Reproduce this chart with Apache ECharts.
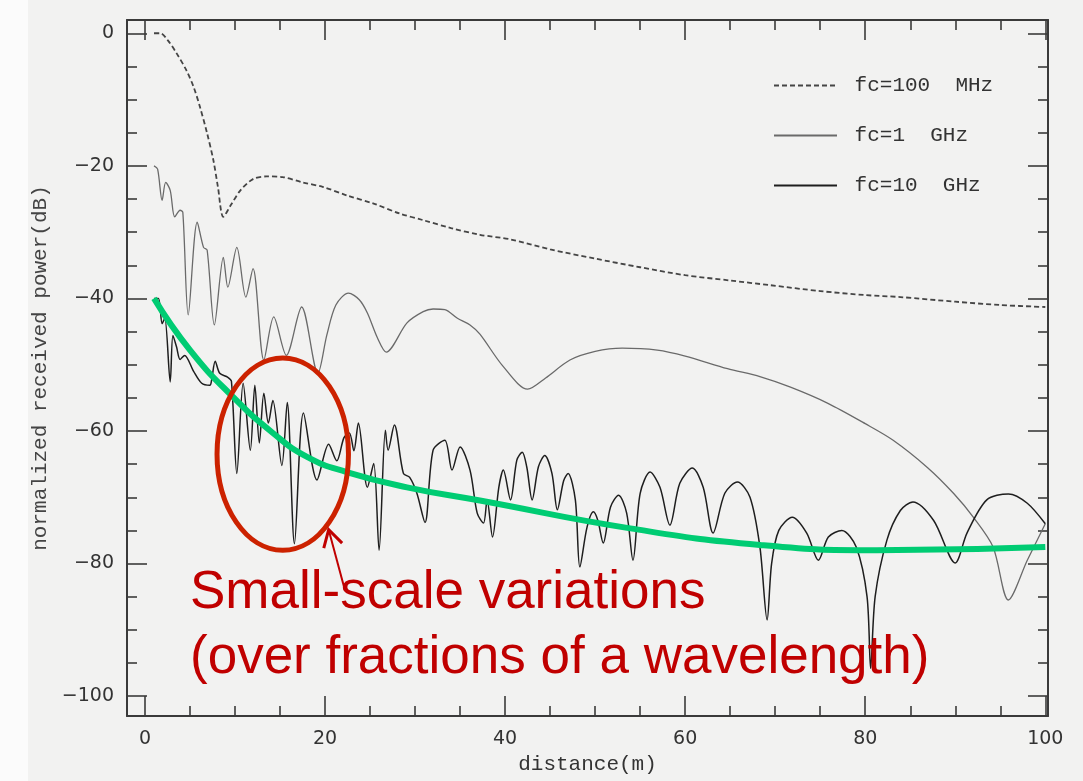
<!DOCTYPE html>
<html>
<head>
<meta charset="utf-8">
<script src="https://cdn.jsdelivr.net/npm/echarts@6/dist/echarts.min.js"></script>
<style>
html, body { margin: 0; padding: 0; background: #f2f2f1; }
#chart { width: 1083px; height: 781px; }
</style>
</head>
<body>
<div id="chart"></div>
<script>
// tick positions
var xMajorTicks = [0, 20, 40, 60, 80, 100];
var xMinorTicks = [5, 10, 15, 25, 30, 35, 45, 50, 55, 65, 70, 75, 85, 90, 95];
var yMajorTicks = [0, -20, -40, -60, -80, -100];
var yMinorTicks = [-5, -10, -15, -25, -30, -35, -45, -50, -55, -65, -70, -75, -85, -90, -95];

var seriesNames = ['fc=100  MHz', 'fc=1  GHz', 'fc=10  GHz'];

// [distance m, dB]
var fc100MHz = [[1,0],[1.7,0],[2.5,-1],[3.5,-3],[4.6,-5.6],[5.4,-8.1],[6.1,-11.1],[6.9,-15.1],[7.6,-19.2],[8.1,-23.2],[8.7,-27.7],
  [9.5,-26],[10.6,-23.7],[12,-22],[13.5,-21.6],[15.3,-21.7],[17.5,-22.5],[19.8,-23.2],[22.5,-24.5],[25.4,-25.7],[28.3,-27.2],
  [30.9,-28.2],[34,-29.4],[37.2,-30.4],[40.6,-31.1],[45,-32.6],[50,-34],[55,-35.3],[60,-36.5],[65,-37.3],[69.4,-38],[75,-38.9],
  [80,-39.5],[83.9,-39.8],[90,-40.5],[95,-41],[100,-41.3]];

var fc1GHz = [[1,-20],[1.4,-20.5],[1.9,-25.2],[2.3,-22.5],[2.8,-23.7],[3.3,-27.7],[3.9,-26.7],[4.2,-27],[4.8,-42.5],[5.8,-28.5],
  [6.5,-32.3],[6.9,-32.7],[7.7,-44],[8.7,-33.8],[9.2,-38.3],[10.2,-32.3],[11.2,-39.8],[12,-35.5],[13.2,-49.3],[14.3,-42.8],
  [15.7,-48.6],[17.4,-41.3],[19.2,-51.3],[20.2,-45.5],[21.2,-41],[22.6,-39.2],[23.8,-40.2],[24.7,-42.2],[25.8,-45.9],[26.8,-48.1],
  [29.1,-43.7],[30.9,-42],[32,-41.6],[33.3,-41.7],[34.7,-43],[36.1,-44],[37.2,-45.4],[39.8,-50.3],[42.5,-53.7],[44.5,-52],
  [47.2,-49.3],[50,-48],[53,-47.5],[56.9,-47.8],[60,-48.7],[64.7,-50.6],[68.3,-51.8],[71.7,-53.4],[75.8,-55.8],[80,-58.9],
  [83.1,-61.4],[86.9,-65.5],[89.8,-69.4],[92,-73],[94.2,-77.5],[95.9,-85.5],[98,-79.5],[100,-74]];

var fc10GHz = [[1,-40],[1.5,-40],[1.9,-43.8],[2.2,-43],[2.8,-52.6],[3.1,-45.6],[3.5,-47.3],[3.9,-49.2],[4.4,-48.6],[5.4,-51],
  [6.3,-52.8],[7.2,-53.1],[7.4,-52.3],[7.8,-49.5],[8.3,-51.3],[9.2,-51.9],[9.6,-52.5],[10.2,-66.4],[10.9,-52.8],[11.7,-62.9],
  [12.2,-53.1],[12.7,-61.8],[13.2,-54.3],[13.7,-58.8],[14.2,-55.4],[15.2,-65.2],[15.8,-55.7],[16.6,-77],[17.6,-57.3],[19.1,-67.4],
  [20.4,-62],[21.3,-64.5],[22.1,-61],[22.7,-60.3],[23.2,-63],[23.7,-58.8],[24.7,-68.5],[25.4,-64.9],[26,-78],[26.7,-59.9],
  [27,-62.9],[27.7,-59.1],[28.7,-66.4],[29.4,-67],[30.2,-69.4],[31.1,-73.8],[32,-62.9],[33.3,-61.4],[34.1,-65.9],[35,-62.4],
  [36.1,-65.9],[36.9,-72.4],[37.6,-73.9],[38,-70.4],[38.6,-76],[39.3,-68.5],[39.8,-65.9],[40.6,-70.4],[41.3,-64.4],[41.9,-63.2],
  [42.4,-65.4],[43,-70.4],[43.7,-65.4],[44.4,-63.7],[45.2,-66.4],[45.8,-71.9],[46.5,-67.5],[47,-66.4],[47.8,-70.4],[48.3,-80.5],
  [49.1,-74.5],[49.8,-72.2],[50.3,-73.5],[50.9,-76.9],[51.7,-71.5],[52.6,-69.7],[53.5,-72.4],[54.2,-79.5],[55,-69.4],[56.1,-66.2],
  [57.2,-68.5],[58.3,-74.2],[59.4,-67.9],[60.8,-65.6],[62,-68.5],[63.1,-75.4],[64.4,-69.4],[65.8,-67.7],[67.2,-70],[68.3,-77.5],
  [69.1,-88.5],[69.6,-80],[70.4,-75],[71.9,-73],[73.5,-75.4],[74.8,-79.5],[75.9,-76],[77.4,-75],[79,-77.5],[80.2,-85],
  [80.6,-95.8],[81.1,-85],[82.4,-76.5],[83.9,-72],[85.3,-70.7],[87.6,-73.5],[90,-79.9],[91.3,-75.4],[93.5,-70.4],[95.9,-69.5],
  [98,-70.9],[100,-74]];

// hand-drawn trend overlay
var trendLine = [[1,-40],[5,-47.8],[9.8,-54.9],[14.2,-60.3],[18,-63.9],[22.4,-66.2],[29.1,-68.5],[37.2,-70.5],
  [53.9,-74.7],[68.3,-77.2],[81.3,-78],[100,-77.5]];

var noteLines = ['Small-scale variations', '(over fractions of a wavelength)'];

// annotation placement, in data units
var ringCenter = [15.3, -63.5], ringRadius = [7.3, 14.5];
var arrowTail = [22.2, -84], arrowTip = [20.4, -74.9];
var noteAnchor = [5, -79.6];

var ink = '#3a3a3a';
var monoFont = 'Liberation Mono';

function tickLabel(v) {
    return String(v).replace('-', '\u2212');
}

function frameX(pos, ticks, len, grid, withLabels) {
    return {
        type: 'value', gridIndex: grid, position: pos, min: -2, max: 100.3,
        axisLine: { show: grid === 0, onZero: false, lineStyle: { color: ink, width: 2 } },
        axisTick: { inside: true, length: len, customValues: ticks, lineStyle: { color: ink, width: 1.6 } },
        axisLabel: withLabels ? { customValues: ticks, formatter: tickLabel, margin: 14,
            fontFamily: 'DejaVu Sans', fontSize: 19, color: '#333' } : { show: false },
        splitLine: { show: false }
    };
}

function frameY(pos, ticks, len, grid, withLabels) {
    return {
        type: 'value', gridIndex: grid, position: pos, min: -103, max: 2,
        axisLine: { show: grid === 0, onZero: false, lineStyle: { color: ink, width: 2 } },
        axisTick: { inside: true, length: len, customValues: ticks, lineStyle: { color: ink, width: 1.6 } },
        axisLabel: withLabels ? { customValues: ticks, formatter: tickLabel, margin: 13,
            fontFamily: 'DejaVu Sans', fontSize: 19, color: '#333' } : { show: false },
        splitLine: { show: false }
    };
}

var xBottom = frameX('bottom', xMajorTicks, 20, 0, true);
xBottom.name = 'distance(m)';
xBottom.nameLocation = 'middle';
xBottom.nameGap = 38;
xBottom.nameTextStyle = { fontFamily: monoFont, fontSize: 21, color: '#333' };

var yLeft = frameY('left', yMajorTicks, 20, 0, true);
yLeft.name = 'normalized received power(dB)';
yLeft.nameLocation = 'middle';
yLeft.nameGap = 69;
yLeft.nameTextStyle = { fontFamily: monoFont, fontSize: 21, color: '#444' };

var gridBox = { left: 127, right: 35, top: 20, bottom: 65, containLabel: false };

var option = {
    backgroundColor: '#f2f2f1',
    animation: false,
    grid: [gridBox, Object.assign({}, gridBox)],
    legend: {
        data: seriesNames,
        orient: 'vertical',
        left: 768,
        top: 70,
        itemWidth: 63,
        itemHeight: 14,
        itemGap: 29,
        itemStyle: { opacity: 0 },
        formatter: function (name) { return ' ' + name; },
        textStyle: { fontFamily: monoFont, fontSize: 21, color: '#333' }
    },
    xAxis: [
        xBottom,
        frameX('top', xMajorTicks, 20, 0, false),
        frameX('bottom', xMinorTicks, 10, 1, false),
        frameX('top', xMinorTicks, 10, 1, false)
    ],
    yAxis: [
        yLeft,
        frameY('right', yMajorTicks, 20, 0, false),
        frameY('left', yMinorTicks, 10, 1, false),
        frameY('right', yMinorTicks, 10, 1, false)
    ],
    series: [
        {
            name: seriesNames[0], type: 'line', data: fc100MHz, symbol: 'none', smooth: 0.3,
            lineStyle: { color: '#454545', width: 1.8, type: [5, 3] }, itemStyle: { color: '#454545' }
        },
        {
            name: seriesNames[1], type: 'line', data: fc1GHz, symbol: 'none', smooth: 0.3,
            lineStyle: { color: '#6a6a6a', width: 1.3 }, itemStyle: { color: '#6a6a6a' }
        },
        {
            name: seriesNames[2], type: 'line', data: fc10GHz, symbol: 'none', smooth: 0.3,
            lineStyle: { color: '#1e1e1e', width: 1.5 }, itemStyle: { color: '#1e1e1e' }
        },
        {
            name: 'trend', type: 'line', data: trendLine, symbol: 'none', smooth: true, z: 5,
            lineStyle: { color: '#00cc73', width: 6 }
        }
    ]
};

var chart = echarts.init(document.getElementById('chart'));
chart.setOption(option);

// annotations: placed through the axes
function px(p) {
    return chart.convertToPixel({ xAxisIndex: 0, yAxisIndex: 0 }, p);
}

var c = px(ringCenter);
var edge = px([ringCenter[0] + ringRadius[0], ringCenter[1] + ringRadius[1]]);
var tail = px(arrowTail), tip = px(arrowTip);
var dx = tail[0] - tip[0], dy = tail[1] - tip[1];
var dl = Math.sqrt(dx * dx + dy * dy);
var ux = dx / dl, uy = dy / dl;
var ang = 30 * Math.PI / 180, wing = 19;
function wingPt(s) {
    var ca = Math.cos(s * ang), sa = Math.sin(s * ang);
    return [tip[0] + wing * (ux * ca - uy * sa), tip[1] + wing * (ux * sa + uy * ca)];
}
var note = px(noteAnchor);

chart.setOption({
    graphic: [
        {
            type: 'rect', z: -10, silent: true,
            shape: { x: 0, y: 0, width: 28, height: 781 },
            style: { fill: '#fbfbfb' }
        },
        {
            type: 'ellipse', z: 100,
            shape: { cx: c[0], cy: c[1], rx: Math.abs(edge[0] - c[0]), ry: Math.abs(edge[1] - c[1]) },
            style: { fill: 'none', stroke: '#cc2200', lineWidth: 5 }
        },
        {
            type: 'line', z: 100,
            shape: { x1: tail[0], y1: tail[1], x2: tip[0], y2: tip[1] },
            style: { stroke: '#c00000', lineWidth: 2 }
        },
        {
            type: 'polyline', z: 100,
            shape: { points: [wingPt(1), tip, wingPt(-1)] },
            style: { fill: 'none', stroke: '#c00000', lineWidth: 3 }
        },
        {
            type: 'text', z: 100, x: note[0], y: note[1],
            style: {
                text: noteLines.join('\n'), fill: '#c00000',
                font: '53px "Liberation Sans"', lineHeight: 65,
                verticalAlign: 'top', align: 'left'
            }
        }
    ]
});
</script>
</body>
</html>
